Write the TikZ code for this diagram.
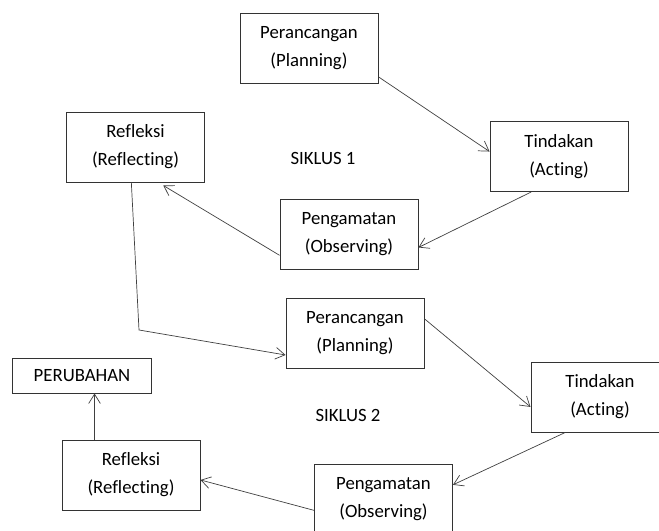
\documentclass[tikz,border=0pt]{standalone}
\usepackage{fontspec}
\setmainfont[Ligatures={NoCommon}]{Carlito}
\usepackage{tikz}
\usetikzlibrary{arrows.meta}
\usetikzlibrary{positioning, calc}

\begin{document}
\begin{tikzpicture}[
    x=0.03cm, y=-0.03cm,
    arr/.style={black!75, line width=0.6pt, -{Straight Barb[length=8pt, width=10pt]}},
    block/.style={draw=black!80, line width=0.8pt, font=\fontsize{16}{24}\selectfont, align=center, inner sep=0pt},
    box/.style={block, minimum width=4.14cm, minimum height=2.1cm},
    label/.style={font=\fontsize{16}{24}\selectfont}
]
    \useasboundingbox (0,0) rectangle (659,531);
    \clip (0,0) rectangle (659,531);

    % Siklus 1
    \draw (309, 48.5) node[box] (plan1) {Perancangan\\(Planning)};
    \draw (plan1) ++(250, 108) node[box] (act1) {Tindakan\\(Acting)};
    \draw (plan1) ++(40, 185.5) node[box] (obs1) {Pengamatan\\(Observing)};
    \draw (plan1) ++(-173.5, 98.5) node[box] (refl1) {Refleksi\\(Reflecting)};
    \draw (323, 158) node[label] (sik1) {SIKLUS 1};

    % Siklus 2
    \draw (obs1) ++(6, 99) node[box] (plan2) {Perancangan\\(Planning)};
    \draw (plan2) ++(245, 64) node[box] (act2) {Tindakan\\(Acting)};
    \draw (plan2) ++(28.5, 166) node[box] (obs2) {Pengamatan\\(Observing)};
    \draw (plan2) ++(-224, 142) node[box] (refl2) {Refleksi\\(Reflecting)};
    \draw (82, 375.5) node[block, minimum width=4.17cm, minimum height=1.05cm] (change) {PERUBAHAN};
    \draw (348, 415) node[label] (sik2) {SIKLUS 2};

    % Cycle arrows:
    \draw[arr] ($(plan1.north east)!.9!(plan1.south east)$) -- ($(act1.north west)!.43!(act1.south west)$);
    \draw[arr] ($(act1.south west)!.3!(act1.south east)$) -- ($(obs1.north east)!.69!(obs1.south east)$);
    \draw[arr] ($(obs1.north west)!.8!(obs1.south west)$) -- ($(refl1.south west)!.7!(refl1.south east) + (0, 3)$);

    \coordinate (bend) at (139, 330);
    \draw[arr] ($(refl1.south west)!.47!(refl1.south east)$) -- (bend) -- ($(plan2.north west)!.81!(plan2.south west)$);

    \draw[arr] ($(plan2.north east)!.3!(plan2.south east)$) -- ($(act2.north west)!.64!(act2.south west)$);
    \draw[arr] ($(act2.south west)!.25!(act2.south east)$) -- ($(obs2.north east)!.3!(obs2.south east)$);
    \draw[arr] ($(obs2.north west)!.66!(obs2.south west)$) -- ($(refl2.north east)!.57!(refl2.south east)$);

    \draw[arr] (refl2.north west) ++(33, 0) coordinate (r2top) -- (r2top |- change.south);

\end{tikzpicture}
\end{document}
